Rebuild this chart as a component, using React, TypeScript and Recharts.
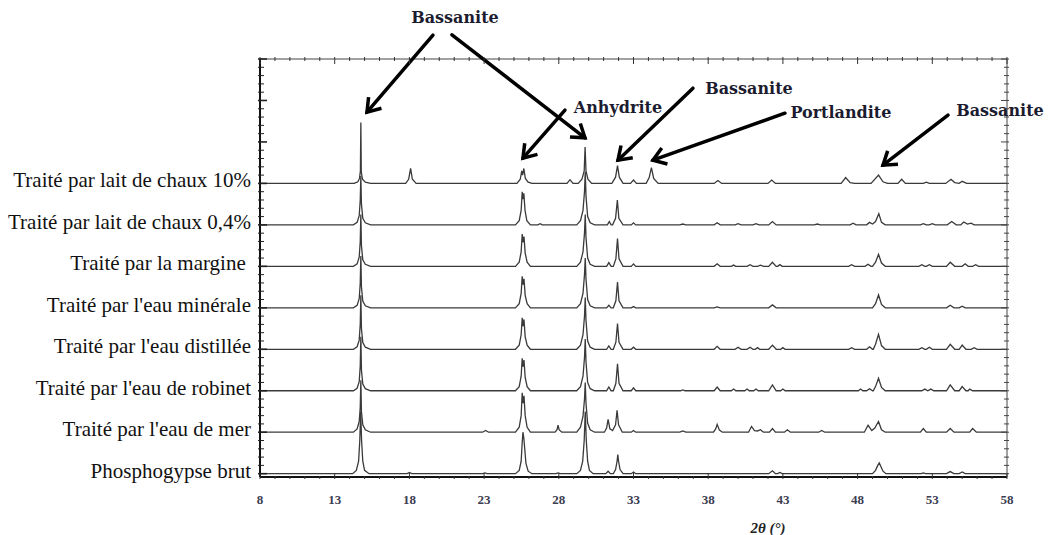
import React from 'react';
import { LineChart, Line, XAxis, YAxis, ReferenceDot } from 'recharts';

// sample names, top trace first
const samples = [
  'Traité par lait de chaux 10%',
  'Traité par lait de chaux 0,4%',
  'Traité par la margine ',
  "Traité par l'eau minérale",
  "Traité par l'eau distillée",
  "Traité par l'eau de robinet",
  "Traité par l'eau de mer",
  'Phosphogypse brut',
];

const xLabels = [8, 13, 18, 23, 28, 33, 38, 43, 48, 53, 58];

// [2theta, intensity above own baseline]
const lait10 = [
  [8, 0], [14.3, 0], [14.55, 4], [14.66, 12], [14.72, 30], [14.75, 147], [14.78, 28], [14.86, 10], [15.05, 3], [15.4, 0],
  [17.75, 0], [17.95, 10], [18.08, 36], [18.2, 10], [18.45, 0],
  [25.2, 0], [25.42, 10], [25.52, 30], [25.58, 20], [25.66, 36], [25.76, 12], [25.95, 3], [26.2, 0],
  [28.55, 0], [28.75, 9], [28.95, 0],
  [29.3, 0], [29.55, 10], [29.7, 30], [29.76, 88], [29.82, 30], [29.95, 10], [30.2, 0],
  [31.55, 0], [31.8, 15], [31.93, 43], [32.05, 15], [32.3, 0],
  [32.8, 0], [33.0, 8], [33.2, 0],
  [33.85, 0], [34.05, 14], [34.2, 38], [34.35, 12], [34.65, 0],
  [38.4, 0], [38.65, 7], [38.9, 0],
  [42.0, 0], [42.25, 8], [42.5, 0],
  [46.9, 0], [47.2, 14], [47.5, 2], [47.8, 0],
  [48.9, 0], [49.4, 20], [49.7, 4], [50.0, 0],
  [50.7, 0], [50.95, 10], [51.2, 0],
  [52.4, 0], [52.6, 3], [52.8, 0],
  [53.9, 0], [54.25, 10], [54.5, 2], [54.8, 0], [55.0, 5], [55.3, 0],
  [58, 0],
];

const lait04 = [
  [8, 0], [14.25, 0], [14.5, 6], [14.64, 22], [14.71, 60], [14.75, 118], [14.79, 50], [14.88, 16], [15.05, 5], [15.4, 0],
  [25.1, 0], [25.35, 10], [25.48, 35], [25.55, 80], [25.6, 62], [25.66, 76], [25.74, 35], [25.86, 10], [26.1, 0],
  [26.6, 0], [26.75, 3], [26.9, 0],
  [29.2, 0], [29.45, 10], [29.62, 35], [29.72, 80], [29.77, 128], [29.82, 70], [29.93, 20], [30.1, 5], [30.4, 0],
  [31.25, 0], [31.38, 8], [31.5, 0],
  [31.6, 0], [31.8, 16], [31.92, 60], [32.02, 16], [32.3, 0],
  [32.85, 0], [33.0, 5], [33.15, 0],
  [36.1, 0], [36.3, 2], [36.5, 0],
  [38.4, 0], [38.6, 5], [38.8, 0],
  [39.8, 0], [40.0, 3], [40.2, 0],
  [41.0, 0], [41.2, 3], [41.4, 0],
  [42.05, 0], [42.3, 8], [42.55, 0],
  [45.1, 0], [45.3, 2], [45.5, 0],
  [47.5, 0], [47.7, 4], [47.9, 0],
  [48.6, 0], [48.8, 6], [49.0, 2], [49.2, 8], [49.42, 27], [49.6, 6], [49.85, 0],
  [52.2, 0], [52.4, 3], [52.6, 0], [52.8, 0], [53.0, 3], [53.2, 0],
  [54.0, 0], [54.3, 8], [54.6, 0], [54.9, 0], [55.1, 7], [55.35, 2], [55.6, 4], [55.8, 0],
  [58, 0],
];

const margine = [
  [8, 0], [14.25, 0], [14.5, 6], [14.64, 22], [14.71, 60], [14.75, 125], [14.79, 50], [14.88, 16], [15.05, 5], [15.4, 0],
  [25.1, 0], [25.35, 10], [25.48, 35], [25.55, 78], [25.61, 58], [25.67, 72], [25.75, 32], [25.88, 10], [26.1, 0],
  [29.2, 0], [29.45, 10], [29.62, 35], [29.72, 80], [29.77, 125], [29.82, 70], [29.93, 20], [30.1, 5], [30.4, 0],
  [31.2, 0], [31.35, 9], [31.5, 0], [31.65, 0], [31.82, 18], [31.93, 67], [32.03, 18], [32.3, 0],
  [32.85, 0], [33.0, 6], [33.15, 0],
  [38.4, 0], [38.6, 6], [38.8, 0], [39.55, 0], [39.7, 3], [39.85, 0], [40.6, 0], [40.8, 4], [41.0, 0], [41.3, 0], [41.5, 3], [41.7, 0],
  [42.05, 0], [42.3, 10], [42.55, 0], [42.65, 0], [42.8, 4], [42.95, 0],
  [47.4, 0], [47.6, 4], [47.8, 0], [48.5, 0], [48.7, 5], [48.9, 0],
  [49.0, 0], [49.2, 10], [49.4, 29], [49.6, 8], [49.85, 0],
  [52.1, 0], [52.3, 4], [52.5, 0], [52.6, 0], [52.8, 4], [53.0, 0],
  [53.95, 0], [54.2, 10], [54.5, 0], [55.0, 0], [55.2, 6], [55.4, 0], [55.7, 0], [55.9, 4], [56.1, 0],
  [58, 0],
];

const minerale = [
  [8, 0], [14.25, 0], [14.5, 6], [14.64, 22], [14.71, 60], [14.75, 125], [14.79, 50], [14.88, 16], [15.05, 5], [15.4, 0],
  [25.1, 0], [25.35, 10], [25.48, 35], [25.55, 76], [25.61, 56], [25.67, 70], [25.75, 30], [25.88, 10], [26.1, 0],
  [29.2, 0], [29.45, 10], [29.62, 35], [29.72, 80], [29.77, 120], [29.82, 70], [29.93, 20], [30.1, 5], [30.4, 0],
  [31.2, 0], [31.35, 6], [31.5, 0], [31.65, 0], [31.82, 17], [31.93, 62], [32.03, 17], [32.3, 0],
  [32.85, 0], [33.0, 3], [33.15, 0],
  [38.4, 0], [38.6, 2], [38.8, 0],
  [42.05, 0], [42.3, 7], [42.55, 0],
  [49.0, 0], [49.2, 10], [49.4, 31], [49.6, 8], [49.85, 0],
  [53.95, 0], [54.2, 6], [54.45, 0], [54.8, 0], [55.0, 4], [55.2, 0],
  [58, 0],
];

const distillee = [
  [8, 0], [14.25, 0], [14.5, 6], [14.64, 22], [14.71, 60], [14.75, 130], [14.79, 50], [14.88, 16], [15.05, 5], [15.4, 0],
  [25.1, 0], [25.35, 10], [25.48, 35], [25.55, 76], [25.61, 56], [25.67, 72], [25.75, 30], [25.88, 10], [26.1, 0],
  [29.2, 0], [29.45, 10], [29.62, 35], [29.72, 80], [29.77, 125], [29.82, 70], [29.93, 20], [30.1, 5], [30.4, 0],
  [31.2, 0], [31.35, 8], [31.5, 0], [31.65, 0], [31.82, 17], [31.93, 62], [32.03, 17], [32.3, 0],
  [32.85, 0], [33.0, 5], [33.15, 0],
  [38.4, 0], [38.6, 7], [38.8, 0], [39.8, 0], [40.0, 5], [40.2, 0], [40.6, 0], [40.8, 5], [41.0, 0], [41.15, 0], [41.3, 4], [41.45, 0],
  [42.05, 0], [42.3, 10], [42.55, 0], [42.85, 0], [43.0, 4], [43.15, 0],
  [47.4, 0], [47.6, 4], [47.8, 0], [48.6, 0], [48.8, 6], [49.0, 0],
  [49.05, 0], [49.2, 12], [49.4, 36], [49.6, 9], [49.85, 0],
  [52.1, 0], [52.3, 4], [52.5, 0], [52.6, 0], [52.8, 5], [53.0, 0],
  [53.95, 0], [54.2, 12], [54.5, 0], [54.8, 0], [55.0, 10], [55.25, 0], [55.6, 0], [55.8, 4], [56.0, 0],
  [58, 0],
];

const robinet = [
  [8, 0], [14.25, 0], [14.5, 6], [14.64, 22], [14.71, 60], [14.75, 130], [14.79, 50], [14.88, 16], [15.05, 5], [15.4, 0],
  [25.1, 0], [25.35, 10], [25.48, 35], [25.55, 78], [25.61, 58], [25.67, 74], [25.75, 32], [25.88, 10], [26.1, 0],
  [29.2, 0], [29.45, 10], [29.62, 35], [29.72, 80], [29.77, 125], [29.82, 70], [29.93, 20], [30.1, 5], [30.4, 0],
  [31.2, 0], [31.35, 9], [31.5, 0], [31.65, 0], [31.82, 18], [31.93, 65], [32.03, 18], [32.3, 0],
  [32.85, 0], [33.0, 7], [33.15, 0], [36.15, 0], [36.3, 2], [36.45, 0],
  [38.4, 0], [38.6, 9], [38.8, 0], [39.55, 0], [39.7, 4], [39.85, 0], [40.45, 0], [40.6, 4], [40.75, 0], [41.05, 0], [41.2, 4], [41.35, 0],
  [42.05, 0], [42.3, 14], [42.55, 0], [42.85, 0], [43.0, 4], [43.15, 0],
  [48.05, 0], [48.2, 4], [48.35, 0], [48.6, 0], [48.8, 5], [49.0, 0],
  [49.05, 0], [49.2, 10], [49.4, 30], [49.6, 8], [49.85, 0],
  [52.3, 0], [52.5, 4], [52.7, 0], [52.9, 4], [53.1, 0],
  [53.95, 0], [54.2, 14], [54.5, 0], [54.8, 0], [55.0, 10], [55.25, 0], [55.4, 0], [55.5, 4], [55.7, 0],
  [58, 0],
];

const mer = [
  [8, 0], [14.25, 0], [14.5, 8], [14.64, 26], [14.71, 60], [14.75, 125], [14.79, 50], [14.88, 18], [15.05, 6], [15.4, 0],
  [22.9, 0], [23.1, 4], [23.3, 0],
  [25.1, 0], [25.35, 12], [25.48, 40], [25.55, 95], [25.61, 70], [25.67, 88], [25.75, 40], [25.88, 12], [26.1, 0],
  [27.75, 0], [27.88, 6], [27.95, 17], [28.02, 6], [28.2, 0],
  [29.2, 0], [29.45, 12], [29.62, 38], [29.72, 80], [29.77, 120], [29.82, 70], [29.93, 22], [30.1, 6], [30.4, 0],
  [31.05, 0], [31.2, 10], [31.3, 31], [31.42, 8], [31.6, 4], [31.8, 18], [31.9, 53], [32.0, 18], [32.25, 0],
  [32.85, 0], [33.0, 4], [33.15, 0], [36.1, 0], [36.3, 3], [36.5, 0],
  [38.35, 0], [38.5, 8], [38.6, 19], [38.75, 5], [38.95, 0],
  [40.7, 0], [40.9, 14], [41.1, 4], [41.3, 3], [41.5, 6], [41.7, 0],
  [42.1, 0], [42.3, 9], [42.5, 0], [43.1, 0], [43.3, 6], [43.5, 0], [45.4, 0], [45.6, 4], [45.8, 0],
  [48.45, 0], [48.7, 17], [48.95, 4], [49.15, 10], [49.4, 26], [49.6, 6], [49.85, 0],
  [52.2, 0], [52.4, 9], [52.6, 0], [53.95, 0], [54.2, 9], [54.45, 0], [55.5, 0], [55.7, 9], [55.95, 0],
  [58, 0],
];

const brut = [
  [8, 0], [14.2, 0], [14.45, 8], [14.6, 30], [14.68, 80], [14.74, 150], [14.8, 80], [14.88, 30], [15.0, 8], [15.3, 0],
  [17.85, 0], [18.0, 3], [18.15, 0], [22.9, 0], [23.05, 2], [23.2, 0],
  [25.1, 0], [25.35, 8], [25.48, 30], [25.55, 75], [25.6, 100], [25.66, 85], [25.72, 60], [25.8, 25], [25.95, 6], [26.2, 0],
  [27.8, 0], [27.95, 2], [28.1, 0],
  [29.2, 0], [29.45, 8], [29.6, 30], [29.7, 80], [29.77, 150], [29.84, 80], [29.93, 30], [30.05, 8], [30.3, 0],
  [31.15, 0], [31.3, 6], [31.45, 0],
  [31.65, 0], [31.8, 10], [31.9, 30], [31.95, 46], [32.0, 30], [32.1, 10], [32.3, 0],
  [32.85, 0], [33.0, 4], [33.15, 0],
  [42.05, 0], [42.3, 7], [42.5, 0], [42.65, 0], [42.8, 3], [42.95, 0],
  [49.0, 0], [49.2, 8], [49.35, 20], [49.45, 26], [49.55, 18], [49.7, 6], [49.9, 0],
  [52.25, 0], [52.4, 2], [52.55, 0], [53.95, 0], [54.2, 5], [54.45, 0], [54.8, 0], [55.0, 4], [55.2, 0],
  [58, 0],
];

const traces = [lait10, lait04, margine, minerale, distillee, robinet, mer, brut];

const STEP = 100; // vertical spacing between stacked patterns
const series = traces.map((pts, i) =>
  pts.map(([x, y]) => ({ x, y: y + (traces.length - 1 - i) * STEP })),
);

const xMinor = Array.from({ length: 51 }, (_, i) => 8 + i);
const yMinor = Array.from({ length: 51 }, (_, i) => i * 20);

const serif = '"Liberation Serif", "Times New Roman", serif';
const noteFont = '"DejaVu Serif", serif';

const BottomTick = (p: any) => {
  const { x, y, payload } = p;
  const v = payload.value;
  const major = xLabels.includes(v);
  return (
    <g>
      <line x1={x} x2={x} y1={y} y2={y - (major ? 6 : 3)} stroke="#333" />
      {major && (
        <text x={x} y={y + 20} textAnchor="middle" dominantBaseline="central" fontFamily={serif} fontWeight="bold" fontSize={13} fill="#3c3c52">
          {v}
        </text>
      )}
    </g>
  );
};

const TopTick = (p: any) => {
  const { x, y, payload } = p;
  const major = xLabels.includes(payload.value);
  return <line x1={x} x2={x} y1={y} y2={y + (major ? 7 : 4)} stroke="#333" />;
};

const LeftTick = (p: any) => {
  const { x, y, payload } = p;
  const v = payload.value;
  const major = v % STEP === 0;
  const idx = traces.length - 1 - v / STEP;
  const name = major && idx >= 0 && idx < samples.length ? samples[idx] : null;
  return (
    <g>
      <line x1={x} x2={x + (major ? 9 : 6)} y1={y} y2={y} stroke="#222" strokeWidth={major ? 1.6 : 1} />
      {name && (
        <text x={x - 7} y={y - 3} textAnchor="end" dominantBaseline="central" fontFamily={serif} fontSize={21} fill="#111" style={{ whiteSpace: 'pre' }}>
          {name}
        </text>
      )}
    </g>
  );
};

const RightTick = (p: any) => {
  const { x, y, payload } = p;
  const major = payload.value % STEP === 0;
  return <line x1={x} x2={x - (major ? 8 : 5)} y1={y} y2={y} stroke="#444" />;
};

// arrows: tip in data units, tail offset in px, label offset from tail
const notes = [
  { x: 15.16, y: 872, dx: 66, dy: -77, text: 'Bassanite', lx: 22, ly: -18 },
  { x: 29.75, y: 810, dx: -133, dy: -103, text: '', lx: 0, ly: 0 },
  { x: 25.6, y: 761, dx: 42, dy: -48, text: 'Anhydrite', lx: 53, ly: -3 },
  { x: 31.96, y: 756, dx: 75, dy: -72, text: 'Bassanite', lx: 56, ly: 0 },
  { x: 34.3, y: 756, dx: 132, dy: -47, text: 'Portlandite', lx: 56, ly: -1 },
  { x: 49.7, y: 744, dx: 65, dy: -50, text: 'Bassanite', lx: 52, ly: -5 },
];

const arrowShape = (n: typeof notes[number]) => (props: any) => {
  const { cx, cy } = props;
  const tx = cx + n.dx;
  const ty = cy + n.dy;
  const ang = Math.atan2(cy - ty, cx - tx);
  const L = 15;
  const a = 0.6;
  const p1 = `${cx - L * Math.cos(ang - a)},${cy - L * Math.sin(ang - a)}`;
  const p2 = `${cx - L * Math.cos(ang + a)},${cy - L * Math.sin(ang + a)}`;
  return (
    <g>
      <line x1={tx} y1={ty} x2={cx} y2={cy} stroke="#000" strokeWidth={3.5} strokeLinecap="round" />
      <polyline points={`${p1} ${cx},${cy} ${p2}`} fill="none" stroke="#000" strokeWidth={3.5} strokeLinejoin="miter" />
      {n.text && (
        <text x={tx + n.lx} y={ty + n.ly} textAnchor="middle" dominantBaseline="central" fontFamily={noteFont} fontWeight="bold" fontSize={16} fill="#1c1c30">
          {n.text}
        </text>
      )}
    </g>
  );
};

const AxisTitle = (props: any) => {
  const vb = props.viewBox || { x: 260, y: 477, width: 747 };
  return (
    <text x={vb.x + vb.width * 0.68} y={vb.y + 51} textAnchor="middle" dominantBaseline="central" fontFamily={serif} fontWeight="bold" fontStyle="italic" fontSize={15} fill="#222">
      2θ (°)
    </text>
  );
};

export default function App() {
  return (
    <div style={{ position: 'absolute', left: 0, top: 0, width: 1048, height: 535, background: '#fff' }}>
      <LineChart width={1048} height={535} margin={{ top: 58, right: 40, bottom: 28, left: 8 }}>
        <XAxis
          xAxisId="b"
          dataKey="x"
          type="number"
          domain={[8, 58]}
          ticks={xMinor}
          interval={0}
          tickSize={0}
          tickLine={false}
          tick={BottomTick}
          axisLine={{ stroke: '#111', strokeWidth: 2 }}
          height={30}
          allowDataOverflow
          label={{ content: AxisTitle }}
        />
        <XAxis
          xAxisId="t"
          orientation="top"
          dataKey="x"
          type="number"
          domain={[8, 58]}
          ticks={xMinor}
          interval={0}
          tickSize={0}
          tickLine={false}
          tick={TopTick}
          axisLine={{ stroke: '#444' }}
          height={1}
          allowDataOverflow
        />
        <YAxis
          yAxisId="l"
          type="number"
          domain={[-8, 1000]}
          ticks={yMinor}
          interval={0}
          tickSize={0}
          tickLine={false}
          tick={LeftTick}
          axisLine={{ stroke: '#111', strokeWidth: 2 }}
          width={252}
          allowDataOverflow
        />
        <YAxis
          yAxisId="r"
          orientation="right"
          type="number"
          domain={[-8, 1000]}
          ticks={yMinor}
          interval={0}
          tickSize={0}
          tickLine={false}
          tick={RightTick}
          axisLine={{ stroke: '#444' }}
          width={1}
          allowDataOverflow
        />
        {series.map((s, i) => (
          <Line
            key={samples[i]}
            xAxisId="b"
            yAxisId="l"
            data={s}
            dataKey="y"
            type="linear"
            dot={false}
            stroke="#3a3a3a"
            strokeWidth={1.3}
            isAnimationActive={false}
          />
        ))}
        {notes.map((n, i) => (
          <ReferenceDot key={i} xAxisId="b" yAxisId="l" x={n.x} y={n.y} ifOverflow="visible" shape={arrowShape(n)} />
        ))}
      </LineChart>
    </div>
  );
}
